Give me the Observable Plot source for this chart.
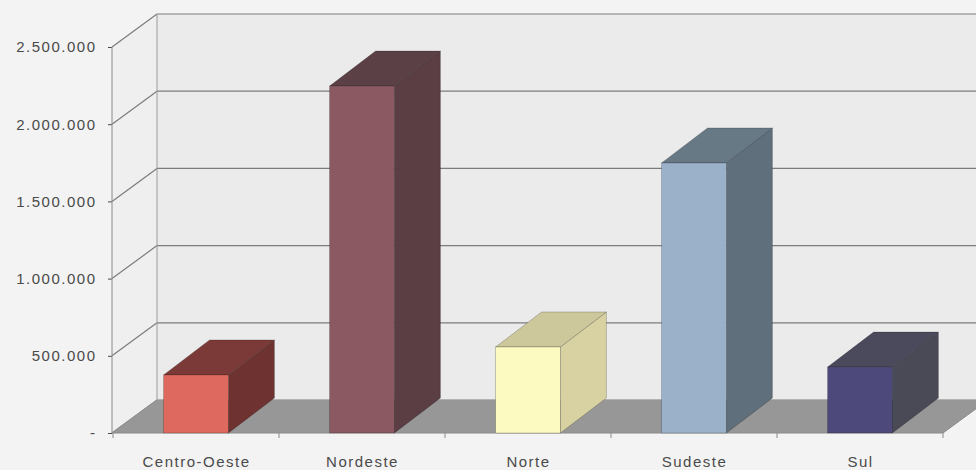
<!DOCTYPE html>
<html><head><meta charset="utf-8">
<script src="https://cdn.jsdelivr.net/npm/d3@7"></script>
<script src="https://cdn.jsdelivr.net/npm/@observablehq/plot@0.6"></script>
<style>html,body{margin:0;padding:0;background:#f3f3f3;overflow:hidden}</style>
</head><body><div id="chart"></div>
<script>
const categories = ["Centro-Oeste", "Nordeste", "Norte", "Sudeste", "Sul"];
const values = [376000, 2247000, 557000, 1749000, 427000];
const yTicks = [0, 500000, 1000000, 1500000, 2000000, 2500000];
const frontColors = ["#de6a5f", "#8a5961", "#fcfac0", "#9bb1c9", "#4d4a7b"];
const topColors = ["#7b3a37", "#5b4146", "#cdc89c", "#687986", "#4b4a5c"];
const sideColors = ["#6e3331", "#5a3e44", "#d8d2a3", "#5f6f7b", "#4a4a57"];

const data = categories.map((c, i) => ({region: c, value: values[i], front: frontColors[i], top: topColors[i], side: sideColors[i]}));

const DX = 45, DY = -33;     // wall depth (px)
const BDX = 46, BDY = -35;   // bar depth (px)
const INSET = 50.6;
const NS = "http://www.w3.org/2000/svg";

function poly(g, pts, fill, stroke, sw) {
  const p = document.createElementNS(NS, "polygon");
  p.setAttribute("points", pts.map(d => d.join(",")).join(" "));
  p.setAttribute("fill", fill);
  if (stroke) { p.setAttribute("stroke", stroke); p.setAttribute("stroke-width", sw || 1); p.setAttribute("stroke-linejoin", "round"); }
  g.appendChild(p);
}
function seg(g, x1, y1, x2, y2, stroke, sw) {
  const l = document.createElementNS(NS, "line");
  l.setAttribute("x1", x1); l.setAttribute("y1", y1);
  l.setAttribute("x2", x2); l.setAttribute("y2", y2);
  l.setAttribute("stroke", stroke); l.setAttribute("stroke-width", sw || 1);
  g.appendChild(l);
}

const frame = (index, scales, vals, dims) => {
  const g = document.createElementNS(NS, "g");
  const x = scales.x, y = scales.y;
  const left = dims.marginLeft, right = dims.width - dims.marginRight;
  const y0 = y(0), yTop = y(yTicks[yTicks.length - 1]);
  // side wall & back wall
  poly(g, [[left, yTop], [left + DX, yTop + DY], [left + DX, y0 + DY], [left, y0]], "#efefef");
  poly(g, [[left + DX, yTop + DY], [right + DX, yTop + DY], [right + DX, y0 + DY], [left + DX, y0 + DY]], "#ebebeb");
  // gridlines on back wall and side wall
  for (const t of yTicks) {
    const yy = y(t);
    seg(g, left + DX, yy + DY, right + DX, yy + DY, "#7c7c7c", 1.2);
    seg(g, left, yy, left + DX, yy + DY, "#7c7c7c", 1.2);
  }
  seg(g, left + DX, yTop + DY, left + DX, y0 + DY, "#9a9a9a", 1);
  // floor
  poly(g, [[left, y0], [right, y0], [right + DX, y0 + DY], [left + DX, y0 + DY]], "#979797");
  // front axis lines
  seg(g, left, yTop, left, y0, "#8a8a8a", 1);
  seg(g, left, y0, right, y0, "#8a8a8a", 1);
  seg(g, right, y0, right + DX, y0 + DY, "#8a8a8a", 1);
  // category boundary ticks
  const bw = x.bandwidth ? x.bandwidth() : (right - left) / categories.length;
  const bounds = categories.map(c => x(c)).concat([x(categories[categories.length - 1]) + bw]);
  for (const b of bounds) seg(g, b, y0, b, y0 + 5, "#8a8a8a", 1);
  return g;
};

const bars3d = (index, scales, vals, dims) => {
  const g = document.createElementNS(NS, "g");
  const x = scales.x, y = scales.y;
  const right = dims.width - dims.marginRight;
  const bw = x.bandwidth ? x.bandwidth() : (right - dims.marginLeft) / categories.length;
  const y0 = y(0);
  for (const d of data) {
    const x0 = x(d.region) + INSET, x1 = x(d.region) + bw - INSET, yv = y(d.value);
    poly(g, [[x1, y0], [x1, yv], [x1 + BDX, yv + BDY], [x1 + BDX, y0 + BDY]], d.side, "rgba(0,0,0,0.25)", 0.8);
    poly(g, [[x0, yv], [x1, yv], [x1 + BDX, yv + BDY], [x0 + BDX, yv + BDY]], d.top, "rgba(0,0,0,0.25)", 0.8);
  }
  return g;
};

const fmt = d => d === 0 ? "-" : d3.format(",")(d).replace(/,/g, ".");

const chart = Plot.plot({
  width: 976, height: 470,
  marginLeft: 112, marginRight: 33, marginTop: 47, marginBottom: 37,
  x: {domain: categories, padding: 0, label: null, tickSize: 0, tickPadding: 23},
  y: {domain: [0, 2500000], ticks: yTicks, tickFormat: fmt, tickSize: 4, tickPadding: 12, label: null},
  color: {type: "identity"},
  style: {background: "transparent", color: "#4a4a4a", fontFamily: "'Liberation Sans', Arial, sans-serif", fontSize: "15px", letterSpacing: "1.5px", overflow: "hidden"},
  marks: [
    frame,
    bars3d,
    Plot.barY(data, {x: "region", y: "value", fill: "front", insetLeft: INSET, insetRight: INSET, stroke: "rgba(0,0,0,0.25)", strokeWidth: 0.8})
  ]
});
document.getElementById("chart").appendChild(chart);
</script>
</body></html>
